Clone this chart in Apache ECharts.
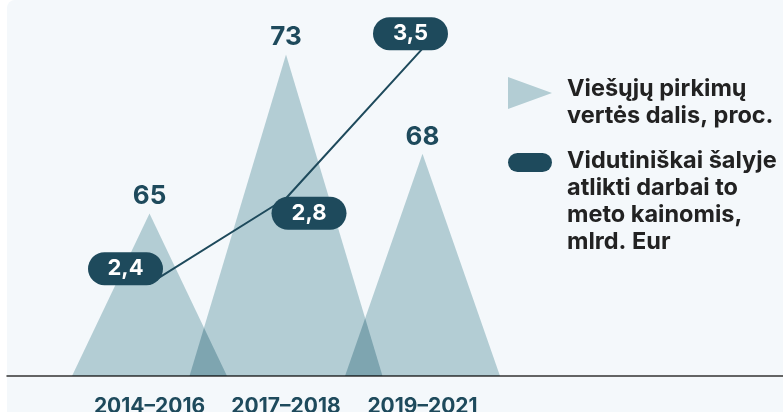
<!DOCTYPE html>
<html>
<head>
<meta charset="utf-8">
<script src="https://cdn.jsdelivr.net/npm/echarts@6/dist/echarts.min.js"></script>
<style>
  html, body { margin: 0; padding: 0; background: #ffffff; }
  #card { position: absolute; left: 7px; top: 0; width: 776px; height: 412px; background: #f4f8fb; border-top-left-radius: 8px; }
  #chart { position: absolute; left: 0; top: 0; width: 783px; height: 412px; }
</style>
</head>
<body>
<div id="card"></div>
<div id="chart"></div>
<script>
// duomenys
const periods = ['2014–2016', '2017–2018', '2019–2021'];
const shareValues = [65, 73, 68];          // Viešųjų pirkimų vertės dalis, proc.
const worksValues = [2.4, 2.8, 3.5];       // atlikti darbai, mlrd. Eur
const shareName = 'Viešųjų pirkimų vertės dalis, proc.';
const worksName = 'Vidutiniškai šalyje atlikti darbai to meto kainomis, mlrd. Eur';
const legendLines = {};
legendLines[shareName] = ['Viešųjų pirkimų', 'vertės dalis, proc.'];
legendLines[worksName] = ['Vidutiniškai šalyje', 'atlikti darbai to', 'meto kainomis,', 'mlrd. Eur'];

// stilius
const dark = '#1e4a5c';
const peakColor = '#b3cdd4';
const peakWidths = [155, 193, 155];
const boxShift = [[-24, -15], [23, 15], [-12, -15]];
const font = 'Inter, "Noto Sans", sans-serif';
const shareMin = 56.82, shareMax = 75.16;

const chart = echarts.init(document.getElementById('chart'));

const legendTextStyle = gap => ({
  fontSize: 23.5, fontWeight: 'bold', color: '#222222', lineHeight: 27, fontFamily: font,
  padding: [0, 0, 0, 10],
  rich: { gap: { fontSize: 2, lineHeight: gap } }
});

const option = {
  backgroundColor: 'transparent',
  animation: false,
  textStyle: { fontFamily: font },
  grid: [
    { left: 81.25, right: 292.25, top: 11.5, bottom: 36, outerBoundsMode: 'none' },
    { left: 7, right: 0, top: 0, bottom: 36, outerBoundsMode: 'none' }
  ],
  xAxis: [
    {
      type: 'category',
      gridIndex: 0,
      data: periods,
      axisLine: { show: false },
      axisTick: { show: false },
      axisLabel: { interval: 0, margin: 20, fontSize: 21, fontWeight: 'bold', color: dark, fontFamily: font }
    },
    {
      type: 'category',
      gridIndex: 1,
      data: [],
      axisLine: { show: true, lineStyle: { color: '#333333', width: 1.5 } },
      axisTick: { show: false },
      axisLabel: { show: false }
    }
  ],
  yAxis: [
    { type: 'value', gridIndex: 0, min: shareMin, max: shareMax, show: false },
    { type: 'value', gridIndex: 0, min: 1.968, max: 3.674, show: false },
    { type: 'value', gridIndex: 1, show: false }
  ],
  legend: [
    {
      left: 508, top: 57, padding: 0, orient: 'vertical', selectedMode: false,
      itemWidth: 44, itemHeight: 32, itemGap: 0,
      data: [{ name: shareName, icon: 'path://M0,0L44,16L0,32Z', itemStyle: { color: peakColor } }],
      formatter: n => '{gap| }\n' + legendLines[n].join('\n'),
      textStyle: legendTextStyle(18)
    },
    {
      left: 508, top: 70, padding: 0, orient: 'vertical', selectedMode: false,
      itemWidth: 44, itemHeight: 19, itemGap: 0,
      data: [{ name: worksName, icon: 'path://M9.5,0H34.5A9.5,9.5,0,0,1,34.5,19H9.5A9.5,9.5,0,0,1,9.5,0Z', itemStyle: { color: dark } }],
      formatter: n => '{gap| }\n' + legendLines[n].join('\n'),
      textStyle: legendTextStyle(77)
    }
  ],
  series: [
    {
      name: shareName,
      type: 'custom',
      xAxisIndex: 0,
      yAxisIndex: 0,
      blendMode: 'multiply',
      itemStyle: { color: peakColor },
      encode: { x: 0, y: 1 },
      data: shareValues.map((v, i) => [i, v]),
      renderItem: function (params, api) {
        const i = params.dataIndex;
        const v = api.value(1);
        const apex = api.coord([api.value(0), v]);
        const base = api.coord([api.value(0), shareMin]);
        const w = peakWidths[i];
        return {
          type: 'polygon',
          shape: { points: [[apex[0] - w / 2, base[1]], [apex[0], apex[1]], [apex[0] + w / 2, base[1]]] },
          style: { fill: peakColor },
          textContent: {
            style: { text: String(v), fontSize: 26, fontWeight: 'bold', fill: dark, fontFamily: font }
          },
          textConfig: { position: 'top', distance: 4 }
        };
      },
      z: 2
    },
    {
      name: worksName,
      type: 'line',
      xAxisIndex: 0,
      yAxisIndex: 1,
      symbol: 'circle',
      symbolSize: 2,
      itemStyle: { color: dark },
      lineStyle: { color: dark, width: 2 },
      label: {
        show: true,
        position: 'inside',
        formatter: p => String(p.value).replace('.', ','),
        backgroundColor: dark,
        borderRadius: 16.5,
        width: 75,
        height: 33,
        lineHeight: 33,
        align: 'center',
        verticalAlign: 'middle',
        color: '#ffffff',
        fontSize: 22,
        fontWeight: 'bold',
        fontFamily: font
      },
      data: worksValues.map((v, i) => ({ value: v, label: { offset: boxShift[i] } })),
      z: 5
    }
  ]
};

chart.setOption(option);
</script>
</body>
</html>
